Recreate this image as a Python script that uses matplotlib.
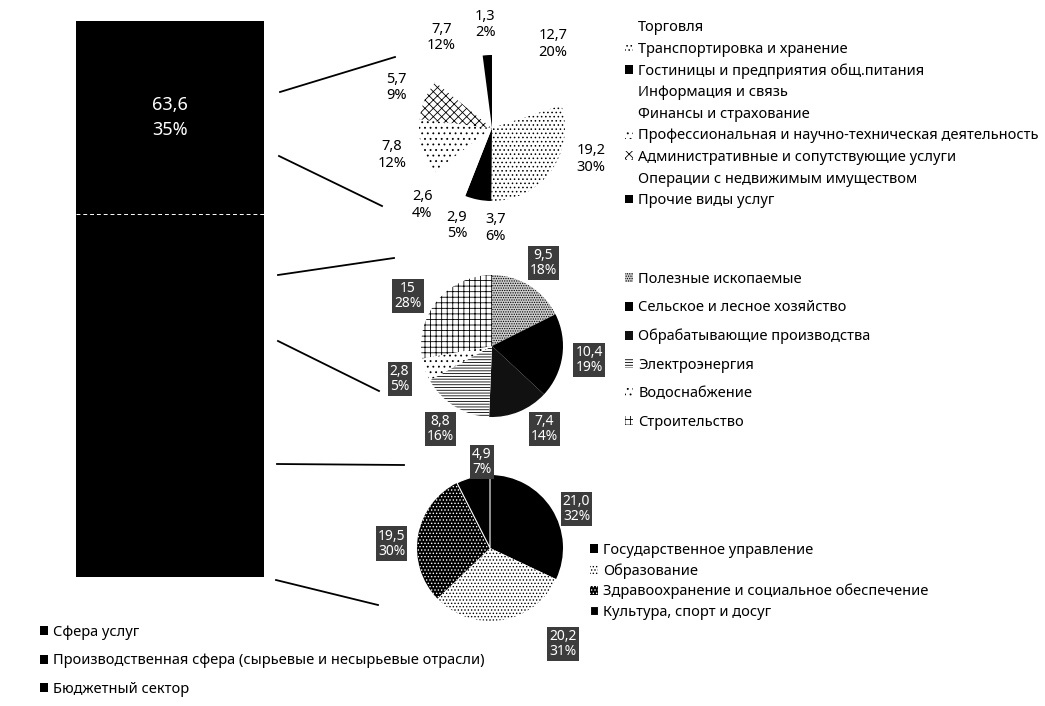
import numpy as np
import matplotlib as mpl
import matplotlib.pyplot as plt
from matplotlib.lines import Line2D

mpl.rcParams['font.family'] = ['Noto Sans', 'DejaVu Sans']
mpl.rcParams['hatch.linewidth'] = 0.6

W, H = 1045, 706

#--------------------------------------------------
# data
#--------------------------------------------------
serv_labels = ['Торговля', 'Транспортировка и хранение',
               'Гостиницы и предприятия общ.питания', 'Информация и связь',
               'Финансы и страхование',
               'Профессиональная и научно-техническая деятельность',
               'Административные и сопутствующие услуги',
               'Операции с недвижимым имуществом', 'Прочие виды услуг']
serv_values = [12.7, 19.2, 3.7, 2.9, 2.6, 7.8, 5.7, 7.7, 1.3]

prod_labels = ['Полезные ископаемые', 'Сельское и лесное хозяйство',
               'Обрабатывающие производства', 'Электроэнергия',
               'Водоснабжение', 'Строительство']
prod_values = [9.5, 10.4, 7.4, 8.8, 2.8, 15]

budg_labels = ['Государственное управление', 'Образование',
               'Здравоохранение и социальное обеспечение',
               'Культура, спорт и досуг']
budg_values = [21.0, 20.2, 19.5, 4.9]

sector_labels = ['Сфера услуг',
                 'Производственная сфера (сырьевые и несырьевые отрасли)',
                 'Бюджетный сектор']

# (face, hatch colour, hatch) per slice
serv_styles = [('white', 'black', ''), ('white', 'black', '....'),
               ('black', 'black', ''), ('white', 'black', ''),
               ('white', 'black', ''), ('white', 'black', '...'),
               ('white', 'black', 'xxxx'), ('white', 'black', ''),
               ('black', 'black', '')]
prod_styles = [('#cfcfcf', 'black', '.......'), ('black', 'black', ''),
               ('#111111', 'black', ''), ('white', 'black', '------'),
               ('white', 'black', '...'), ('white', 'black', '+++')]
budg_styles = [('black', 'white', ''), ('white', 'black', '.....'),
               ('black', 'white', '.....'), ('black', 'white', '')]

# label placement tweaks: slice index -> (extra angle deg ccw, extra distance)
serv_nudge = {1: (19, 0), 2: (13, -0.05), 3: (10, 0), 4: (3, 0)}
prod_nudge = {2: (10, 0), 5: (9, 0)}
budg_nudge = {0: (-8, 0), 1: (28, 0.35), 2: (7, 0.05), 3: (-8, -0.12)}


def fmt(v):
    return str(v).replace('.', ',')


def px(x, y):
    return x / W, 1 - y / H


fig = plt.figure(figsize=(W / 100, H / 100), dpi=100)

#--------------------------------------------------
# stacked bar
#--------------------------------------------------
serv_sum = sum(serv_values)
prod_sum = sum(prod_values)
budg_sum = sum(budg_values)
grand = serv_sum + prod_sum + budg_sum

bax = fig.add_axes([76 / W, 1 - 577 / H, 188 / W, 556 / H])
b_serv = bax.bar(0, serv_sum, bottom=budg_sum + prod_sum, width=1, color='black')
b_prod = bax.bar(0, prod_sum, bottom=budg_sum, width=1, color='black')
b_budg = bax.bar(0, budg_sum, width=1, color='black')
bax.hlines(budg_sum + prod_sum, -0.5, 0.5, colors='white', linestyles=(0, (4, 3)), lw=0.7)
bax.text(0, budg_sum + prod_sum + serv_sum / 2,
         '%s\n%d%%' % (fmt(round(serv_sum, 1)), round(serv_sum / grand * 100)),
         color='white', ha='center', va='center', fontsize=13, linespacing=1.5)
bax.set_xlim(-0.5, 0.5)
bax.set_ylim(0, grand)
bax.axis('off')

fig.legend([b_serv, b_prod, b_budg], sector_labels, loc='upper left',
           bbox_to_anchor=px(40, 625), frameon=False, fontsize=10.5,
           handlelength=0.55, handleheight=0.55, handletextpad=0.35,
           labelspacing=0.92, borderpad=0, borderaxespad=0)

#--------------------------------------------------
# pies
#--------------------------------------------------
def draw_pie(cx, cy, r, values, styles, boxed, dist, nudge):
    lim = 1.8
    side = 2 * lim * r
    ax = fig.add_axes([(cx - side / 2) / W, 1 - (cy + side / 2) / H, side / W, side / H])
    wedges, _ = ax.pie(values, startangle=90, counterclock=False, radius=1)
    for w, (fc, hc, hatch) in zip(wedges, styles):
        w.set_facecolor(fc)
        w.set_edgecolor(hc)
        w.set_hatch(hatch)
        w.set_linewidth(0)
    total = sum(values)
    for i, (v, w) in enumerate(zip(values, wedges)):
        da, dd = nudge.get(i, (0, 0))
        mid = np.deg2rad((w.theta1 + w.theta2) / 2 + da)
        d = dist + dd
        txt = '%s\n%d%%' % (fmt(v), round(v / total * 100))
        if boxed:
            ax.text(d * np.cos(mid), d * np.sin(mid), txt, ha='center', va='center',
                    fontsize=10, color='white', linespacing=1.0,
                    bbox=dict(boxstyle='square,pad=0.15', facecolor='#3c3c3c', edgecolor='none'))
        else:
            ax.text(d * np.cos(mid), d * np.sin(mid), txt, ha='center', va='center',
                    fontsize=10.5, color='black', linespacing=1.15)
    ax.set_xlim(-lim, lim)
    ax.set_ylim(-lim, lim)
    ax.set_aspect('equal')
    ax.axis('off')
    return wedges


w_serv = draw_pie(492, 128, 73, serv_values, serv_styles, False, 1.42, serv_nudge)
w_prod = draw_pie(492, 346, 71, prod_values, prod_styles, True, 1.38, prod_nudge)
w_budg = draw_pie(490, 548, 73, budg_values, budg_styles, True, 1.3, budg_nudge)
w_budg[3].set_edgecolor('white')
w_budg[3].set_linewidth(0.8)

leg_kw = dict(loc='upper left', frameon=False, fontsize=10.5, handlelength=0.55,
              handleheight=0.55, handletextpad=0.35, borderpad=0, borderaxespad=0)
fig.legend(w_serv, serv_labels, bbox_to_anchor=px(625, 20), labelspacing=0.45, **leg_kw)
fig.legend(w_prod, prod_labels, bbox_to_anchor=px(625, 272), labelspacing=0.92, **leg_kw)
fig.legend(w_budg, budg_labels, bbox_to_anchor=px(590, 543), labelspacing=0.35, **leg_kw)

#--------------------------------------------------
# connector lines bar -> pies
#--------------------------------------------------
connectors = [((280, 92), (395, 57)), ((279, 156), (382, 206)),
              ((278, 275), (394, 258)), ((278, 341), (379, 391)),
              ((277, 464), (404, 465)), ((276, 580), (378, 605))]
for (x0, y0), (x1, y1) in connectors:
    fig.add_artist(Line2D([x0 / W, x1 / W], [1 - y0 / H, 1 - y1 / H], color='black', lw=1.3))

plt.savefig('out.png', dpi=100)
